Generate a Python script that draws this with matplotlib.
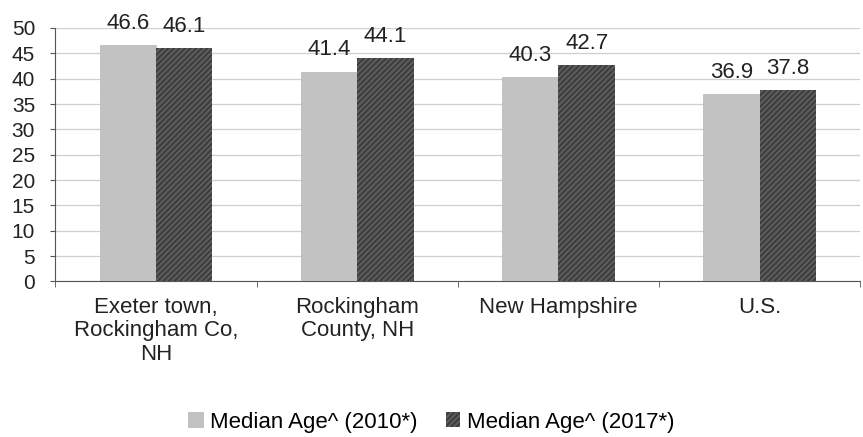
import matplotlib.pyplot as plt
import numpy as np

plt.rcParams["font.family"] = ["Liberation Sans", "DejaVu Sans"]
plt.rcParams["hatch.linewidth"] = 1.0

categories = ["Exeter town,\nRockingham Co,\nNH", "Rockingham\nCounty, NH",
              "New Hampshire", "U.S."]
age_2010 = [46.6, 41.4, 40.3, 36.9]
age_2017 = [46.1, 44.1, 42.7, 37.8]
series_names = ["Median Age^ (2010*)", "Median Age^ (2017*)"]

FS = 16

fig = plt.figure(figsize=(8.63, 4.37), dpi=100)
ax = fig.add_axes([0.064, 0.356, 0.933, 0.58])

x = np.arange(len(categories))
w = 0.28
b1 = ax.bar(x - w / 2, age_2010, w, color="#c2c2c2", edgecolor="#b5b5b5",
            linewidth=0.5, label=series_names[0], zorder=3)
b2 = ax.bar(x + w / 2, age_2017, w, color="#5a5a5a", edgecolor="#363636",
            hatch="//////", linewidth=0.0, label=series_names[1], zorder=3)

# value labels above each bar
for bars, vals in ((b1, age_2010), (b2, age_2017)):
    for rect, v in zip(bars, vals):
        ax.annotate(f"{v:.1f}", (rect.get_x() + rect.get_width() / 2, v),
                    xytext=(0, 8), textcoords="offset points",
                    ha="center", va="bottom", fontsize=16, color="#222222")

ax.set_xlim(-0.5, len(categories) - 0.5)
ax.set_ylim(0, 50)
ax.set_yticks(range(0, 51, 5))
ax.tick_params(axis="y", labelsize=15, length=3.5, color="#555555",
               labelcolor="#222222", pad=11)
ax.set_xticks(x)
ax.set_xticklabels(categories, fontsize=FS, color="#222222", linespacing=1.15)
ax.tick_params(axis="x", length=0, pad=11)
# category separators on the x axis
ax.set_xticks(np.arange(-0.5, len(categories)), minor=True)
ax.tick_params(axis="x", which="minor", length=4, color="#555555")

ax.yaxis.grid(True, color="#cfcfcf", linewidth=0.9, zorder=0)
ax.set_axisbelow(True)
for side in ("top", "right"):
    ax.spines[side].set_visible(False)
ax.spines["left"].set_color("#555555")
ax.spines["bottom"].set_color("#555555")

fig.legend(handles=[b1, b2], loc="center", bbox_to_anchor=(0.5, 0.034),
           ncol=2, frameon=False, fontsize=FS, handlelength=0.65,
           handleheight=0.65, handletextpad=0.3, columnspacing=1.3)

fig.savefig("out.png", dpi=100)
